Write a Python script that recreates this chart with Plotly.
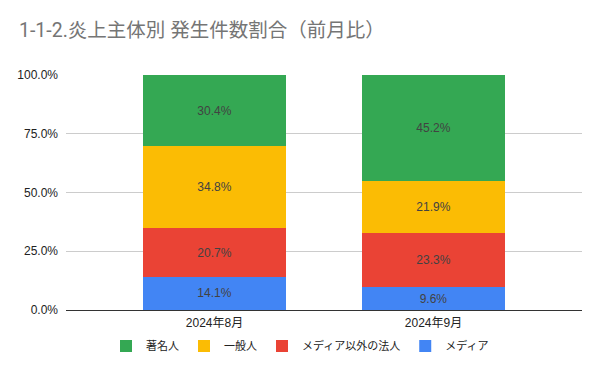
import plotly.graph_objects as go

categories = ["2024年8月", "2024年9月"]
series_names = ["メディア", "メディア以外の法人", "一般人", "著名人"]
media = [14.1, 9.6]
corp = [20.7, 23.3]
general = [34.8, 21.9]
celeb = [30.4, 45.2]
colors = ["#4285F4", "#EA4335", "#FBBC04", "#34A853"]
tick_vals = [0, 25, 50, 75, 100]
tick_text = ["0.0%", "25.0%", "50.0%", "75.0%", "100.0%"]

TITLE_FONT = "Roboto, 'Noto Sans CJK JP', sans-serif"
FONT = "'Liberation Sans', Arial, 'Noto Sans CJK JP', sans-serif"

fig = go.Figure()
for name, vals, col in zip(series_names, [media, corp, general, celeb], colors):
    fig.add_trace(go.Bar(
        x=categories, y=vals, name=name, marker_color=col, marker_line_width=0,
        text=[f"{v:.1f}%" for v in vals], textposition="inside",
        insidetextanchor="middle",
        textfont=dict(color="#424242", size=12, family=FONT),
        width=0.653,
    ))

fig.update_layout(
    barmode="stack",
    width=600, height=371,
    margin=dict(l=66, r=18, t=74.5, b=61, autoexpand=False),
    paper_bgcolor="white", plot_bgcolor="white",
    font=dict(family=FONT, size=12, color="#222222"),
    uniformtext=dict(minsize=12, mode="show"),
    title=dict(text="1-1-2.炎上主体別 発生件数割合（前月比）", x=19 / 600, xanchor="left",
               xref="container", y=1 - 30 / 371, yref="container", yanchor="middle",
               font=dict(size=19.5, color="#757575", family=TITLE_FONT), automargin=False),
    showlegend=True,
    legend=dict(orientation="h", x=0.5, xref="container", xanchor="center",
                y=-0.153, yanchor="middle",
                traceorder="reversed", font=dict(size=11, color="#222222", family=FONT),
                itemwidth=30),
)
fig.update_xaxes(range=[-0.678, 1.678], showgrid=False, showline=True,
                 linecolor="#333333", linewidth=1, ticks="", automargin=False,
                 ticklabelstandoff=2,
                 tickfont=dict(size=12, color="#222222", family=FONT))
fig.update_yaxes(range=[0, 100], tickvals=tick_vals, ticktext=tick_text,
                 showgrid=True, gridcolor="#cccccc", gridwidth=1, zeroline=False,
                 ticks="", automargin=False, ticklabelstandoff=7,
                 tickfont=dict(size=12, color="#222222", family=FONT))

fig.write_html("out.html", post_script="document.body.style.margin='0';",
               config={"displayModeBar": False})
